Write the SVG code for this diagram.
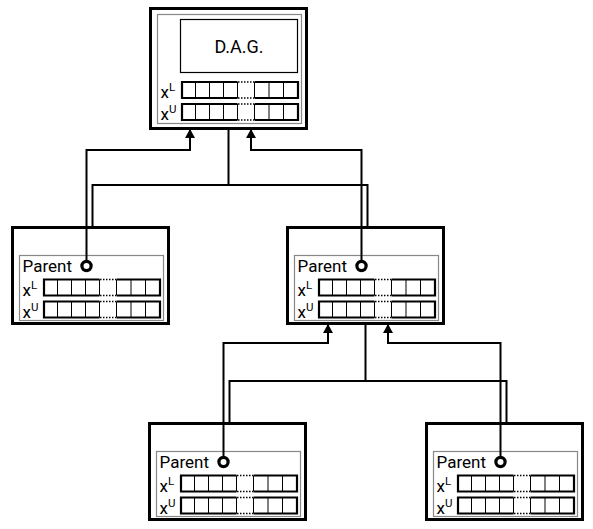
<svg xmlns="http://www.w3.org/2000/svg" xmlns:xlink="http://www.w3.org/1999/xlink" width="593" height="529" viewBox="0 0 593 529">
<style>
text{font-family:Roboto,"Liberation Sans",sans-serif;fill:#000}
.outer{fill:#fff;stroke:#000;stroke-width:3}
.gray{fill:none;stroke:#888;stroke-width:1.2}
.dag{fill:none;stroke:#000;stroke-width:1.2}
.lbl{font-size:17px}
.sup{font-size:11.5px}
.thick{fill:none;stroke:#000;stroke-width:2.2}
.thin{fill:none;stroke:#000;stroke-width:1}
.dot{fill:none;stroke:#000;stroke-width:1.5;stroke-dasharray:1.5 1.5}
.ring{fill:#fff;stroke:#000;stroke-width:3.2}
.conn{fill:none;stroke:#000;stroke-width:2}
.arr{fill:none;stroke:#000;stroke-width:2;marker-end:url(#ah)}
</style>
<defs>
<marker id="ah" viewBox="0 0 9 10" refX="9" refY="5" markerWidth="9" markerHeight="10" markerUnits="userSpaceOnUse" orient="auto">
<path d="M0,0 L9,5 L0,10 z" fill="#000"/>
</marker>
<g id="arr">
<path class="thick" d="M55.5,0 H0 V16 H55.5 M72.5,0 H116 V16 H72.5"/>
<path class="thin" d="M13.5,0 V16 M27.5,0 V16 M41.5,0 V16 M55.5,0 V16 M72.5,0 V16 M87,0 V16 M101.5,0 V16"/>
<path class="dot" d="M56,0 H72 M56,16 H72"/>
</g>
</defs>

<g id="n0">
<rect class="outer" x="150.5" y="8.5" width="156" height="120"/>
<rect class="gray" x="157.5" y="14.5" width="144" height="109"/>
<rect class="dag" x="180.5" y="19.5" width="117" height="53"/>
<text x="239" y="52.5" font-size="18" text-anchor="middle">D.A.G.</text>
<text class="lbl" x="160.5" y="98">x<tspan class="sup" dy="-7">L</tspan></text>
<use xlink:href="#arr" x="182" y="82"/>
<text class="lbl" x="160.5" y="120">x<tspan class="sup" dy="-7">U</tspan></text>
<use xlink:href="#arr" x="182" y="104"/>
</g>

<g id="n1">
<rect class="outer" x="12.5" y="227.5" width="156" height="96"/>
<rect class="gray" x="19.5" y="255.5" width="144" height="65"/>
<text class="lbl" x="22.5" y="272">Parent</text>
<circle class="ring" cx="86.5" cy="266" r="4.6"/>
<text class="lbl" x="22.5" y="296">x<tspan class="sup" dy="-7">L</tspan></text>
<use xlink:href="#arr" x="44" y="279.5"/>
<text class="lbl" x="22.5" y="318">x<tspan class="sup" dy="-7">U</tspan></text>
<use xlink:href="#arr" x="44" y="301.5"/>
</g>

<g id="n2">
<rect class="outer" x="287.5" y="227.5" width="156" height="96"/>
<rect class="gray" x="294.5" y="255.5" width="144" height="65"/>
<text class="lbl" x="297.5" y="272">Parent</text>
<circle class="ring" cx="361.5" cy="266" r="4.6"/>
<text class="lbl" x="297.5" y="296">x<tspan class="sup" dy="-7">L</tspan></text>
<use xlink:href="#arr" x="319" y="279.5"/>
<text class="lbl" x="297.5" y="318">x<tspan class="sup" dy="-7">U</tspan></text>
<use xlink:href="#arr" x="319" y="301.5"/>
</g>

<g id="n3">
<rect class="outer" x="149.5" y="423.5" width="156" height="96"/>
<rect class="gray" x="156.5" y="451.5" width="144" height="65"/>
<text class="lbl" x="159.5" y="468">Parent</text>
<circle class="ring" cx="223.5" cy="462" r="4.6"/>
<text class="lbl" x="159.5" y="492">x<tspan class="sup" dy="-7">L</tspan></text>
<use xlink:href="#arr" x="181" y="475.5"/>
<text class="lbl" x="159.5" y="514">x<tspan class="sup" dy="-7">U</tspan></text>
<use xlink:href="#arr" x="181" y="497.5"/>
</g>

<g id="n4">
<rect class="outer" x="426.5" y="423.5" width="156" height="96"/>
<rect class="gray" x="433.5" y="451.5" width="144" height="65"/>
<text class="lbl" x="436.5" y="468">Parent</text>
<circle class="ring" cx="500.5" cy="462" r="4.6"/>
<text class="lbl" x="436.5" y="492">x<tspan class="sup" dy="-7">L</tspan></text>
<use xlink:href="#arr" x="458" y="475.5"/>
<text class="lbl" x="436.5" y="514">x<tspan class="sup" dy="-7">U</tspan></text>
<use xlink:href="#arr" x="458" y="497.5"/>
</g>

<g id="connectors">
<path class="conn" d="M228.5,130 V185 M92.5,226 V185 H367.5 V226"/>
<path class="arr" d="M86.5,261.5 V150 H190 V129"/>
<path class="arr" d="M361.5,261.5 V150 H251 V129"/>
<path class="conn" d="M365.5,325 V381 M229.5,422 V381 H506.5 V422"/>
<path class="arr" d="M223.5,457.5 V343 H328 V324"/>
<path class="arr" d="M500.5,457.5 V343 H388 V324"/>
</g>
</svg>
